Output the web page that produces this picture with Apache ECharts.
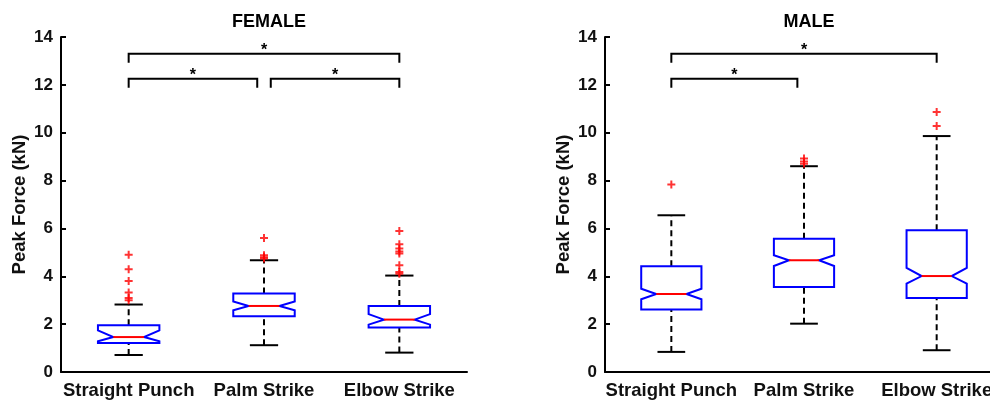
<!DOCTYPE html>
<html>
<head>
<meta charset="utf-8">
<script src="https://cdn.jsdelivr.net/npm/echarts@6/dist/echarts.min.js"></script>
<style>
html, body { margin: 0; padding: 0; background: #fff; }
#chart { width: 990px; height: 403px; }
</style>
</head>
<body>
<div id="chart"></div>
<script>
var categories = ['Straight Punch', 'Palm Strike', 'Elbow Strike'];
var yTicks = [0, 2, 4, 6, 8, 10, 12, 14];

// [lowWhisker, q1, notchLow, median, notchHigh, q3, highWhisker]
var femaleBoxes = [
	[0.71, 1.21, 1.28, 1.46, 1.74, 1.95, 2.82],
	[1.12, 2.33, 2.58, 2.76, 2.95, 3.28, 4.67],
	[0.81, 1.86, 1.98, 2.19, 2.42, 2.76, 4.03]
];
var maleBoxes = [
	[0.84, 2.61, 3.04, 3.26, 3.48, 4.42, 6.55],
	[2.02, 3.55, 4.43, 4.67, 4.88, 5.57, 8.60],
	[0.91, 3.09, 3.69, 4.01, 4.35, 5.92, 9.86]
];

// [category, value]
var femaleOutliers = [
	[0, 4.90], [0, 4.29], [0, 3.80], [0, 3.32], [0, 3.09], [0, 3.00],
	[1, 5.60], [1, 4.88], [1, 4.80], [1, 4.74],
	[2, 5.89], [2, 5.34], [2, 5.16], [2, 5.04], [2, 4.95], [2, 4.46], [2, 4.18], [2, 4.11]
];
var maleOutliers = [
	[0, 7.84],
	[1, 8.92], [1, 8.80], [1, 8.70],
	[2, 10.87], [2, 10.28]
];

// significance brackets: [fromCategory, toCategory, barValue]
var femaleBrackets = [[0, 2, 13.3], [0, 1, 12.26], [1, 2, 12.26]];
var maleBrackets = [[0, 2, 13.3], [0, 1, 12.26]];

var FONT = '"Liberation Sans", Arial, sans-serif';

var renderBox = function(params, api) {
	var idx = api.value(0);
	var x = api.coord([idx, 0])[0];
	var band = api.size([1, 0])[0];
	var half = band * 0.227;
	var inset = half * 0.5;
	var capHalf = half * 0.46;
	var y = function(k) { return api.coord([idx, api.value(k)])[1]; };
	var lo = y(1), q1 = y(2), nLo = y(3), med = y(4), nHi = y(5), q3 = y(6), hi = y(7);
	var black = { stroke: '#000', lineWidth: 2 };
	var dashed = { stroke: '#000', lineWidth: 2, lineDash: [6, 4] };
	return {
		type: 'group',
		children: [
			{ type: 'line', shape: { x1: x, y1: q3, x2: x, y2: hi }, style: dashed },
			{ type: 'line', shape: { x1: x, y1: lo, x2: x, y2: q1 }, style: dashed },
			{ type: 'line', shape: { x1: x - capHalf, y1: hi, x2: x + capHalf, y2: hi }, style: black },
			{ type: 'line', shape: { x1: x - capHalf, y1: lo, x2: x + capHalf, y2: lo }, style: black },
			{
				type: 'polygon',
				shape: {
					points: [
						[x - half, q3], [x + half, q3], [x + half, nHi], [x + half - inset, med],
						[x + half, nLo], [x + half, q1], [x - half, q1], [x - half, nLo],
						[x - half + inset, med], [x - half, nHi]
					]
				},
				style: { fill: '#fff', stroke: '#0000ff', lineWidth: 2 }
			},
			{ type: 'line', shape: { x1: x - half + inset, y1: med, x2: x + half - inset, y2: med }, style: { stroke: '#ff0000', lineWidth: 2 } }
		]
	};
};

var renderBracket = function(params, api) {
	var from = api.value(0), to = api.value(1);
	var band = api.size([1, 0])[0];
	var x1 = api.coord([from, 0])[0];
	var x2 = api.coord([to, 0])[0];
	// middle category is shared by two brackets, pull the legs apart a little
	if (from == 1) x1 += band * 0.05;
	if (to == 1) x2 -= band * 0.05;
	var yBar = api.coord([from, api.value(2)])[1];
	var yLeg = yBar + 9;
	var st = { stroke: '#000', lineWidth: 2, fill: null };
	return {
		type: 'group',
		children: [
			{ type: 'polyline', shape: { points: [[x1, yLeg], [x1, yBar], [x2, yBar], [x2, yLeg]] }, style: st },
			{
				type: 'text',
				style: {
					text: '*', x: (x1 + x2) / 2, y: yBar - 3,
					align: 'center', verticalAlign: 'middle',
					font: 'bold 16px ' + FONT, fill: '#000'
				}
			}
		]
	};
};

var plusSymbol = 'path://M3,0H5V3H8V5H5V8H3V5H0V3H3Z';

var makeXAxis = function(gi) {
	return {
		type: 'category',
		gridIndex: gi,
		data: categories,
		boundaryGap: true,
		axisLine: { lineStyle: { color: '#000', width: 2 } },
		axisTick: { inside: true, alignWithLabel: true, length: 5, lineStyle: { color: '#000', width: 2 } },
		axisLabel: { color: '#111', fontSize: 18.5, fontWeight: 'bold', fontFamily: FONT, margin: 9, interval: 0 },
		splitLine: { show: false }
	};
};
var makeYAxis = function(gi) {
	return {
		type: 'value',
		gridIndex: gi,
		min: yTicks[0],
		max: yTicks[yTicks.length - 1],
		interval: 2,
		name: 'Peak Force (kN)',
		nameLocation: 'middle',
		nameGap: 32,
		nameTextStyle: { color: '#111', fontSize: 18.5, fontWeight: 'bold', fontFamily: FONT },
		axisLine: { show: true, lineStyle: { color: '#000', width: 2 } },
		axisTick: { show: true, inside: true, length: 5, lineStyle: { color: '#000', width: 2 } },
		axisLabel: { color: '#111', fontSize: 17, fontWeight: 'bold', fontFamily: FONT, margin: 8 },
		splitLine: { show: false }
	};
};

var boxData = function(boxes) {
	return boxes.map(function(b, i) { return [i].concat(b); });
};

var option = {
	backgroundColor: '#fff',
	animation: false,
	title: [
		{ text: 'FEMALE', left: 264, top: 8, textAlign: 'center', textStyle: { fontSize: 18, fontWeight: 'bold', fontFamily: FONT, color: '#000' } },
		{ text: 'MALE', left: 804, top: 8, textAlign: 'center', textStyle: { fontSize: 18, fontWeight: 'bold', fontFamily: FONT, color: '#000' } }
	],
	grid: [
		{ left: 61, top: 37, width: 406, height: 335, outerBoundsMode: 'none' },
		{ left: 605, top: 37, width: 398, height: 335, outerBoundsMode: 'none' }
	],
	xAxis: [makeXAxis(0), makeXAxis(1)],
	yAxis: [makeYAxis(0), makeYAxis(1)],
	series: [
		{ type: 'custom', xAxisIndex: 0, yAxisIndex: 0, renderItem: renderBox, encode: { x: 0, y: [1, 7] }, data: boxData(femaleBoxes), clip: false },
		{ type: 'custom', xAxisIndex: 1, yAxisIndex: 1, renderItem: renderBox, encode: { x: 0, y: [1, 7] }, data: boxData(maleBoxes), clip: false },
		{ type: 'scatter', xAxisIndex: 0, yAxisIndex: 0, symbol: plusSymbol, symbolSize: 8, itemStyle: { color: '#ff0000' }, data: femaleOutliers },
		{ type: 'scatter', xAxisIndex: 1, yAxisIndex: 1, symbol: plusSymbol, symbolSize: 8, itemStyle: { color: '#ff0000' }, data: maleOutliers },
		{ type: 'custom', xAxisIndex: 0, yAxisIndex: 0, renderItem: renderBracket, encode: { x: 0, y: 2 }, data: femaleBrackets, clip: false },
		{ type: 'custom', xAxisIndex: 1, yAxisIndex: 1, renderItem: renderBracket, encode: { x: 0, y: 2 }, data: maleBrackets, clip: false }
	]
};

var myChart = echarts.init(document.getElementById('chart'));
myChart.setOption(option);
</script>
</body>
</html>
